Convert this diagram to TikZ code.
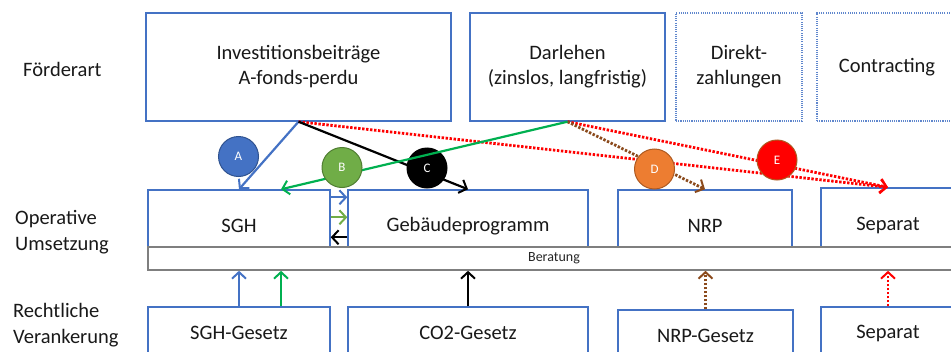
\documentclass[tikz,border=0pt]{standalone}
\usepackage{fontspec}
\setmainfont{Carlito}
\usetikzlibrary{arrows.meta}
\definecolor{bx}{HTML}{4472C4}
\definecolor{bxd}{HTML}{2F528F}
\definecolor{grn}{HTML}{00B050}
\definecolor{lgrn}{HTML}{70AD47}
\definecolor{lgrnd}{HTML}{507E32}
\definecolor{org}{HTML}{ED7D31}
\definecolor{orgd}{HTML}{AE5A21}
\definecolor{brn}{HTML}{8B4A1C}
\definecolor{gry}{HTML}{7F7F7F}
\tikzset{
  lbl/.style={inner sep=0pt, font=\fontsize{20.5}{26}\selectfont, text=black!90},
  box/.style={draw=bx, line width=1.4pt, fill=white, inner sep=0pt, align=center,
    font=\fontsize{20.5}{25}\selectfont, text=black!90},
  dbox/.style={box, draw=bx!85, line width=1.4pt, dash pattern=on 1.1pt off 1.1pt},
  circ/.style={circle, minimum size=40pt, inner sep=0pt, text=white,
    font=\fontsize{13}{15}\selectfont, line width=1pt},
  arr/.style={-{Straight Barb[length=6.5pt,width=14pt,line width=2pt]}, line width=2.2pt},
  darr/.style={arr, dash pattern=on 2.4pt off 1.6pt, line width=2.8pt}
}
\begin{document}
\begin{tikzpicture}[x=1pt,y=-1pt]
\useasboundingbox (0,0) rectangle (951,351);
\clip (0,0) rectangle (951,351);

% left labels
\node[lbl, anchor=west] (l1) at (23,69) {Förderart};
\node[lbl, anchor=west, align=left] (l2) at (15,232) {Operative\\Umsetzung};
\node[lbl, anchor=west, align=left] (l3) at (13,325) {Rechtliche\\Verankerung};

% top row
\node[box, minimum width=305pt, minimum height=108pt] (inv) at (298.5,67) {Investitionsbeiträge\\A-fonds-perdu};
\node[box, minimum width=195pt, minimum height=108pt] (dar) at (567.5,67) {Darlehen\\(zinslos, langfristig)};
\node[dbox, minimum width=126pt, minimum height=108pt] (dir) at (739,67) {Direkt-\\zahlungen};
\node[dbox, minimum width=140pt, minimum height=108pt] (con) at (887,67) {Contracting};

% operative row
\node[box, minimum width=182pt, minimum height=72pt] (sgh) at (239,226) {SGH};
\node[box, minimum width=240pt, minimum height=72pt] (geb) at (468,226) {Gebäudeprogramm};
\node[box, minimum width=174pt, minimum height=72pt] (nrp) at (705,226) {NRP};
\node[box, minimum width=134pt, minimum height=74pt] (sep) at (888,225) {Separat};

% Beratung bar
\node[draw=gry, line width=1.6pt, fill=white, minimum width=812pt, minimum height=23pt, inner sep=0pt,
  font=\fontsize{14}{16}\selectfont, text=black!85] (ber) at (554,258.5) {Beratung};

% bottom row
\node[box, minimum width=182pt, minimum height=52pt] (sghg) at (239,333) {SGH-Gesetz};
\node[box, minimum width=240pt, minimum height=52pt] (co2) at (468,333) {CO2-Gesetz};
\node[box, minimum width=175pt, minimum height=52pt] (nrpg) at (705.5,336) {NRP-Gesetz};
\node[box, minimum width=134pt, minimum height=52pt] (sepg) at (888,333) {Separat};

% top connectors
\draw[darr, red] (inv.south) -- (sep.north);
\draw[darr, red] (dar.south) -- (sep.north);
\draw[arr, bx] (inv.south) -- (sgh.north);
\draw[arr, black] (inv.south) -- (geb.north);
\draw[darr, brn] (dar.south) -- (nrp.north);

\node[circ, fill=black, draw=black] (cc) at (427,168) {C};
\draw[arr, grn] (dar.south) -- ([xshift=42pt]sgh.north);

\node[circ, fill=bx, draw=bxd] (ca) at (238.5,156.5) {A};
\node[circ, fill=lgrn, draw=lgrnd] (cb) at (342,167.5) {B};
\node[circ, fill=org, draw=orgd] (cd) at (654.5,169) {D};
\node[circ, fill=red, draw=orgd] (ce) at (777,160) {E};

% between SGH and Gebäudeprogramm
\draw[arr, bx] ([yshift=-8pt]sgh.north east) -- ([yshift=-8pt]geb.north west);
\draw[arr, lgrn] ([yshift=-28pt]sgh.north east) -- ([yshift=-28pt]geb.north west);
\draw[arr, black] ([yshift=-48pt]geb.north west) -- ([yshift=-48pt]sgh.north east);

% bottom connectors
\draw[arr, bx] (sghg.north) -- (sghg.north |- ber.south);
\draw[arr, grn] ([xshift=42pt]sghg.north) -- ([xshift=42pt]sghg.north |- ber.south);
\draw[arr, black] (co2.north) -- (co2.north |- ber.south);
\draw[darr, brn] (nrpg.north) -- (nrpg.north |- ber.south);
\draw[darr, red] (sepg.north) -- (sepg.north |- ber.south);
\end{tikzpicture}
\end{document}
